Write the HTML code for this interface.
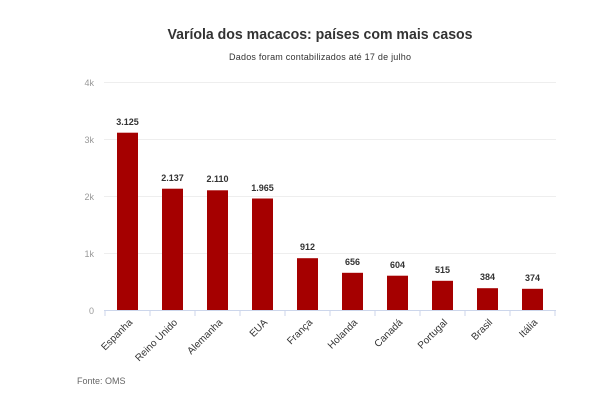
<!DOCTYPE html><html><head><style>body{margin:0;background:#fff;font-family:"Liberation Sans",sans-serif}</style></head><body>
<svg width="607" height="401" xmlns="http://www.w3.org/2000/svg" font-family="Liberation Sans, sans-serif">
<text x="320" y="39" text-anchor="middle" font-size="15" font-weight="bold" fill="#333" textLength="305" lengthAdjust="spacingAndGlyphs">Varíola dos macacos: países com mais casos</text>
<text x="320" y="60" text-anchor="middle" font-size="9" fill="#333" textLength="182">Dados foram contabilizados até 17 de julho</text>
<g stroke="#eee" stroke-width="1">
<line x1="104" x2="556" y1="82.5" y2="82.5"/><line x1="104" x2="556" y1="139.5" y2="139.5"/><line x1="104" x2="556" y1="196.5" y2="196.5"/><line x1="104" x2="556" y1="253.5" y2="253.5"/>
</g>
<line x1="104" x2="556" y1="310.5" y2="310.5" stroke="#ccd6eb"/>
<g font-size="9" fill="#999" text-anchor="end"><text x="94" y="86">4k</text><text x="94" y="143">3k</text><text x="94" y="200">2k</text><text x="94" y="257">1k</text><text x="94" y="314">0</text></g>
<g stroke="#ccd6eb"><line x1="105" x2="105" y1="310" y2="316"/><line x1="150" x2="150" y1="310" y2="316"/><line x1="195" x2="195" y1="310" y2="316"/><line x1="240" x2="240" y1="310" y2="316"/><line x1="285" x2="285" y1="310" y2="316"/><line x1="330" x2="330" y1="310" y2="316"/><line x1="375" x2="375" y1="310" y2="316"/><line x1="420" x2="420" y1="310" y2="316"/><line x1="465" x2="465" y1="310" y2="316"/><line x1="510" x2="510" y1="310" y2="316"/><line x1="555" x2="555" y1="310" y2="316"/></g>
<g fill="#a50000">
<rect x="117" y="132.7" width="21" height="177.3"/>
<rect x="162" y="188.7" width="21" height="121.3"/>
<rect x="207" y="190.3" width="21" height="119.7"/>
<rect x="252" y="198.5" width="21" height="111.5"/>
<rect x="297" y="258.2" width="21" height="51.8"/>
<rect x="342" y="272.8" width="21" height="37.2"/>
<rect x="387" y="275.7" width="21" height="34.3"/>
<rect x="432" y="280.8" width="21" height="29.2"/>
<rect x="477" y="288.2" width="21" height="21.8"/>
<rect x="522" y="288.8" width="21" height="21.2"/>
</g>
<g font-size="9" font-weight="bold" fill="#333" text-anchor="middle">
<text x="127.5" y="125">3.125</text><text x="172.5" y="181">2.137</text><text x="217.5" y="182">2.110</text><text x="262.5" y="191">1.965</text><text x="307.5" y="250">912</text><text x="352.5" y="265">656</text><text x="397.5" y="268">604</text><text x="442.5" y="273">515</text><text x="487.5" y="280">384</text><text x="532.5" y="281">374</text>
</g>
<g font-size="10" fill="#333" text-anchor="end">
<text transform="translate(133,323) rotate(-45)">Espanha</text>
<text transform="translate(178,323) rotate(-45)">Reino Unido</text>
<text transform="translate(223,323) rotate(-45)">Alemanha</text>
<text transform="translate(268,323) rotate(-45)">EUA</text>
<text transform="translate(313,323) rotate(-45)">França</text>
<text transform="translate(358,323) rotate(-45)">Holanda</text>
<text transform="translate(403,323) rotate(-45)">Canadá</text>
<text transform="translate(448,323) rotate(-45)">Portugal</text>
<text transform="translate(493,323) rotate(-45)">Brasil</text>
<text transform="translate(538,323) rotate(-45)">Itália</text>
</g>
<text x="77" y="384" font-size="9" fill="#666">Fonte: OMS</text>
</svg></body></html>
